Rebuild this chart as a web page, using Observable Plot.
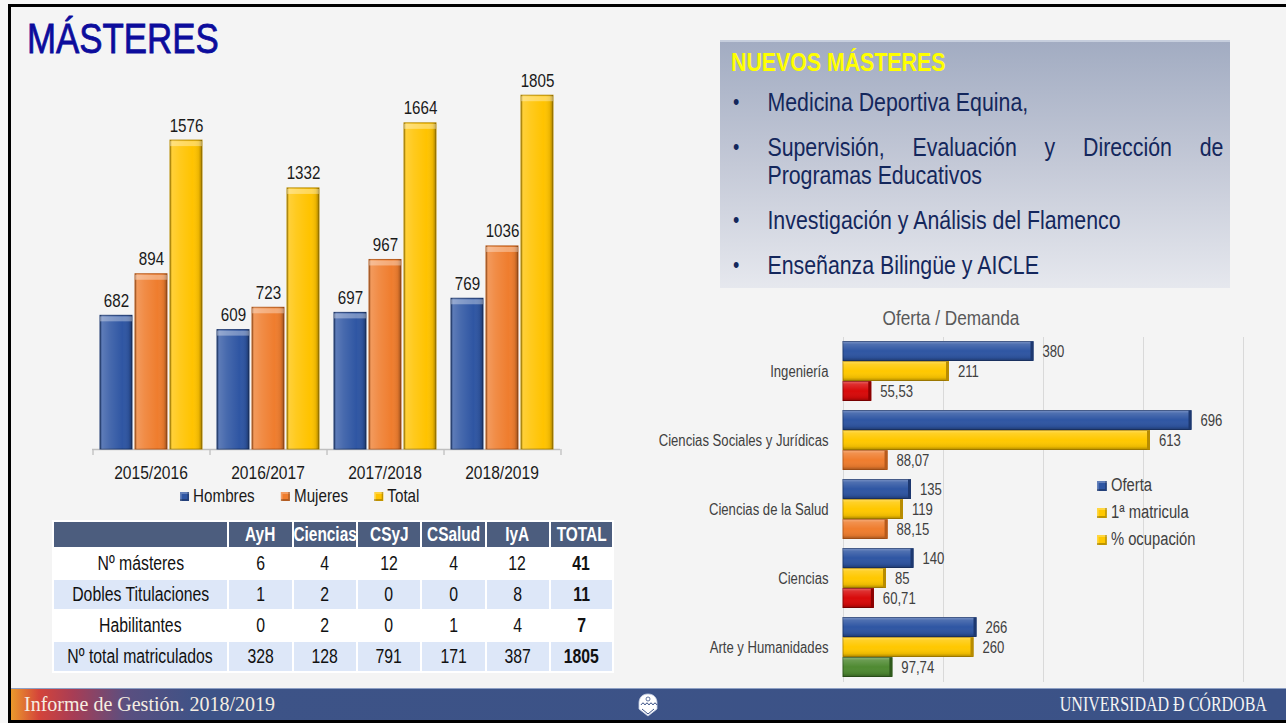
<!DOCTYPE html>
<html lang="es">
<head>
<meta charset="utf-8">
<title>Másteres</title>
<script src="https://cdn.jsdelivr.net/npm/d3@7"></script>
<script src="https://cdn.jsdelivr.net/npm/@observablehq/plot@0.6"></script>
<style>
  html, body { margin:0; padding:0; }
  body { width:1286px; height:723px; position:relative; overflow:hidden; background:#f7f7f7;
         font-family:"Liberation Sans Narrow","Arial Narrow","Liberation Sans",Arial,sans-serif; }
  .a { position:absolute; }
  #slide { left:8px; top:4px; width:1278px; height:719px; background:#f4f4f4; border-left:3px solid #000; border-top:3px solid #000; box-sizing:border-box; }
  #bottomLine { left:8px; top:720px; width:1278px; height:3px; background:#000; }
  #title { left:27px; top:15px; font-size:42px; color:#0c0c9c; -webkit-text-stroke:0.8px #0c0c9c; line-height:48px; white-space:nowrap; transform:scaleX(0.83); transform-origin:left center; }
  #leftLegend { left:180px; top:486px; display:flex; gap:32px; font-size:18.5px; color:#1a1a1a; line-height:20px; transform:scaleX(0.82); transform-origin:left center; }
  .lg { display:flex; align-items:center; white-space:nowrap; }
  .sw { width:11px; height:9px; margin-right:5px; box-shadow: inset -2px -2px 0 rgba(0,0,0,0.25), inset 2px 2px 0 rgba(255,255,255,0.25); }
  #tbl { left:52px; top:520px; border-collapse:collapse; table-layout:fixed; font-size:20px; color:#111; }
  #tbl th, #tbl td { border:2px solid #ffffff; padding:0; text-align:center; white-space:nowrap; overflow:hidden; }
  #tbl th { background:#4c5d7e; color:#fff; font-weight:bold; height:25px; font-size:19.5px; }
  #tbl td { height:29px; }
  #tbl tr.alt td { background:#dde7f8; }
  #tbl tr.plain td { background:#ffffff; }
  #tbl td.tot { font-weight:bold; }
  .nx { display:inline-block; margin:0 -40px; transform:scaleX(0.79); transform-origin:center center; }
  #nuevos { left:720px; top:40px; width:510px; height:248px; background:linear-gradient(180deg,#a2acc2 0%,#c4c9d7 50%,#e6e8ee 100%); border-top:2px solid #c6cedd; box-sizing:border-box; }
  #nuevosTitle { position:absolute; left:11px; top:4px; font-size:26px; font-weight:bold; color:#ffff00; line-height:32px; white-space:nowrap; transform:scaleX(0.82); transform-origin:left center; }
  #nuevosList { position:absolute; left:13px; top:46px; width:598px; margin:0; padding:0; list-style:none; font-size:26px; color:#14275c; line-height:28px; transform:scaleX(0.82); transform-origin:left top; }
  #nuevosList li { position:relative; padding-left:42px; margin-bottom:17px; text-align:justify; }
  #nuevosList li::before { content:"•"; position:absolute; left:0; top:0; font-size:22px; }
  #odTitle { left:851px; top:306px; width:200px; text-align:center; font-size:21px; color:#595959; line-height:24px; transform:scaleX(0.82); transform-origin:center center; white-space:nowrap; }
  #rightLegend { left:1097px; top:472px; font-size:18px; color:#404040; line-height:27px; transform:scaleX(0.82); transform-origin:left top; }
  #rightLegend .lg .sw { width:12px; height:10px; margin-right:5px; }
  #footer { left:11px; top:688px; width:1275px; height:32px;
            background:linear-gradient(90deg,#ea9a2c 0px,#d4443a 28px,#a83d55 62px,#5a4f80 115px,#3d5387 190px,#3b5287 100%);
            border-top:1px solid #8ea0c4; box-sizing:border-box; }
  #footLeft { position:absolute; left:13px; top:4px; font-family:"Liberation Serif","Times New Roman",serif; font-size:20px; color:#f6eee2; white-space:nowrap; line-height:22px; }
  #footRight { position:absolute; right:19px; top:4px; font-family:"Liberation Serif","Times New Roman",serif; font-size:20px; color:#f4f4f4; white-space:nowrap; line-height:22px; transform:scaleX(0.8); transform-origin:right center; }
  #logo { position:absolute; left:626px; top:4px; }
</style>
</head>
<body>
<svg width="0" height="0" style="position:absolute">
  <defs>
    <linearGradient id="shineX" x1="0" y1="0" x2="1" y2="0">
      <stop offset="0" stop-color="#000" stop-opacity="0.30"/>
      <stop offset="0.07" stop-color="#fff" stop-opacity="0.22"/>
      <stop offset="0.3" stop-color="#fff" stop-opacity="0.12"/>
      <stop offset="0.7" stop-color="#fff" stop-opacity="0"/>
      <stop offset="0.9" stop-color="#000" stop-opacity="0.08"/>
      <stop offset="1" stop-color="#000" stop-opacity="0.35"/>
    </linearGradient>
    <linearGradient id="shineY" x1="0" y1="0" x2="0" y2="1">
      <stop offset="0" stop-color="#fff" stop-opacity="0.35"/>
      <stop offset="0.15" stop-color="#fff" stop-opacity="0.15"/>
      <stop offset="0.5" stop-color="#fff" stop-opacity="0"/>
      <stop offset="0.85" stop-color="#000" stop-opacity="0.08"/>
      <stop offset="1" stop-color="#000" stop-opacity="0.3"/>
    </linearGradient>
  </defs>
</svg>
<div id="slide" class="a"></div>
<div id="bottomLine" class="a"></div>
<div id="title" class="a">MÁSTERES</div>
<div id="leftChart" class="a" style="left:0px;top:40px"></div>
<div id="leftLegend" class="a"></div>
<table id="tbl" class="a"></table>
<div id="nuevos" class="a"><div id="nuevosTitle">NUEVOS MÁSTERES</div><ul id="nuevosList"></ul></div>
<div id="odTitle" class="a">Oferta / Demanda</div>
<div id="rightChart" class="a" style="left:640px;top:300px"></div>
<div id="rightLegend" class="a"></div>
<div id="footer" class="a">
  <div id="footLeft">Informe de Gestión. 2018/2019</div>
  <svg id="logo" width="22" height="24" viewBox="0 0 22 24">
    <path d="M11 1 C5 1 2 5 2 10 L2 16 L11 23 L20 16 L20 10 C20 5 17 1 11 1 Z" fill="#ffffff" stroke="#c9d2e6" stroke-width="0.8"/>
    <path d="M4 12 Q6 8 8 12 Q10 8 12 12 Q14 8 16 12 Q18 8 20 12" fill="none" stroke="#3b5287" stroke-width="1"/>
    <path d="M5 16 L11 21 L17 16" fill="none" stroke="#3b5287" stroke-width="1"/>
    <circle cx="11" cy="6" r="2" fill="none" stroke="#3b5287" stroke-width="0.8"/>
  </svg>
  <div id="footRight">UNIVERSIDAD Ð CÓRDOBA</div>
</div>

<script>
// ---------- Left chart data ----------
const years = ["2015/2016", "2016/2017", "2017/2018", "2018/2019"];
const hombres = [682, 609, 697, 769];
const mujeres = [894, 723, 967, 1036];
const total = [1576, 1332, 1664, 1805];
const genderSeries = ["Hombres", "Mujeres", "Total"];

// ---------- Table data ----------
const tableCols = ["AyH", "Ciencias", "CSyJ", "CSalud", "IyA", "TOTAL"];
const tableRowLabels = ["Nº másteres", "Dobles Titulaciones", "Habilitantes", "Nº total matriculados"];
const nMasteres = [6, 4, 12, 4, 12, 41];
const doblesTitulaciones = [1, 2, 0, 0, 8, 11];
const habilitantes = [0, 2, 0, 1, 4, 7];
const totalMatriculados = [328, 128, 791, 171, 387, 1805];

// ---------- New masters ----------
const nuevosMasteres = [
  "Medicina Deportiva Equina,",
  "Supervisión, Evaluación y Dirección de Programas Educativos",
  "Investigación y Análisis del Flamenco",
  "Enseñanza Bilingüe y AICLE"
];

// ---------- Right chart data ----------
const areas = ["Ingeniería", "Ciencias Sociales y Jurídicas", "Ciencias de la Salud", "Ciencias", "Arte y Humanidades"];
const oferta = [380, 696, 135, 140, 266];
const primeraMatricula = [211, 613, 119, 85, 260];
const ocupacion = [55.53, 88.07, 88.15, 60.71, 97.74];
const ofdSeries = ["Oferta", "1ª matricula", "% ocupación"];

// ---------- Styles ----------
const FONT = '"Liberation Sans Narrow","Arial Narrow","Liberation Sans",Arial,sans-serif';
const NARROW = 0.82; // emulate a condensed face with the installed Liberation Sans
const genderFill = {Hombres: "#2f56a3", Mujeres: "#ef7d2e", Total: "#ffc300"};
const genderEdge = {Hombres: "#1d3870", Mujeres: "#b85a1a", Total: "#b88c00"};
const ofdFill = {"Oferta": "#2f56a3", "1ª matricula": "#ffc800"};
const ofdEdge = {"Oferta": "#1d3870", "1ª matricula": "#b88c00"};
function ocupFill(v) { return v < 70 ? "#d80a0a" : v < 95 ? "#ef7d2e" : "#4f8a32"; }
function ocupEdge(v) { return v < 70 ? "#8c0000" : v < 95 ? "#b85a1a" : "#2f5a1c"; }

// Condense every SVG text around its own anchor point
function condense(svg, k) {
  svg.querySelectorAll("text").forEach(t => {
    const b = t.getBBox();
    const anchor = getComputedStyle(t).textAnchor;
    const ax = anchor === "middle" ? b.x + b.width / 2 : anchor === "end" ? b.x + b.width : b.x;
    const tr = t.getAttribute("transform") || "";
    t.setAttribute("transform", `${tr} translate(${ax},0) scale(${k},1) translate(${-ax},0)`);
  });
}

// ---------- Left chart ----------
const gData = years.flatMap((y, i) => [
  {year: y, series: "Hombres", value: hombres[i]},
  {year: y, series: "Mujeres", value: mujeres[i]},
  {year: y, series: "Total", value: total[i]}
]);
const LW = 640, LML = 92, LMR = 80;
const PI = 3 / 35, PO = 0.214;
const facetW = (LW - LML - LMR) / years.length;
const stepW = facetW / (genderSeries.length - PI + 2 * PO);
const bandOff = PO * stepW + stepW * (1 - PI) / 2;

const leftPlot = Plot.plot({
  width: LW, height: 449,
  marginLeft: LML, marginRight: LMR, marginTop: 17, marginBottom: 40,
  style: {background: "transparent", fontFamily: FONT, fontSize: "19px", color: "#1a1a1a", overflow: "visible"},
  fx: {domain: years, padding: 0, label: null, tickSize: 0, tickPadding: 16, axis: "bottom"},
  x: {domain: genderSeries, paddingInner: PI, paddingOuter: PO, axis: null},
  y: {domain: [0, 2000], axis: null},
  color: {type: "identity"},
  marks: [
    Plot.ruleY([0], {stroke: "#bfbfbf", strokeWidth: 1.3}),
    Plot.ruleX(years, {fx: d => d, x: () => genderSeries[0], y1: 0, y2: 0, insetBottom: -6, dx: -bandOff, stroke: "#bfbfbf", strokeWidth: 1.3}),
    Plot.ruleX(years.slice(-1), {fx: d => d, x: () => genderSeries[genderSeries.length - 1], y1: 0, y2: 0, insetBottom: -6, dx: bandOff, stroke: "#bfbfbf", strokeWidth: 1.3}),
    Plot.barY(gData, {fx: "year", x: "series", y: "value", fill: d => genderFill[d.series], stroke: d => genderEdge[d.series], strokeWidth: 1}),
    Plot.barY(gData, {fx: "year", x: "series", y: "value", fill: "url(#shineX)"}),
    Plot.tickY(gData, {fx: "year", x: "series", y: "value", stroke: "#ffffff", strokeOpacity: 0.35, strokeWidth: 5, dy: 3}),
    Plot.text(gData, {fx: "year", x: "series", y: "value", text: d => String(d.value), dy: -15, fontSize: 18.5, fill: "#1a1a1a"})
  ]
});
document.getElementById("leftChart").appendChild(leftPlot);
condense(leftPlot, NARROW);

// Left legend
const ll = d3.select("#leftLegend");
genderSeries.forEach(s => {
  const it = ll.append("div").attr("class", "lg");
  it.append("div").attr("class", "sw").style("background", genderFill[s]);
  it.append("span").text(s);
});

// ---------- Table ----------
const tbl = d3.select("#tbl");
const colW = [175, 64.5, 64.5, 64, 64.5, 64, 63.5];
const cg = tbl.append("colgroup");
colW.forEach(w => cg.append("col").style("width", w + "px"));
const hr = tbl.append("tr");
hr.append("th").text("");
tableCols.forEach(c => hr.append("th").append("span").attr("class", "nx").text(c));
const tableValues = [nMasteres, doblesTitulaciones, habilitantes, totalMatriculados];
tableRowLabels.forEach((lab, r) => {
  const tr = tbl.append("tr").attr("class", r % 2 ? "alt" : "plain");
  tr.append("td").append("span").attr("class", "nx").text(lab);
  tableValues[r].forEach((v, c) => tr.append("td").attr("class", c === tableCols.length - 1 ? "tot" : null)
    .append("span").attr("class", "nx").text(v));
});

// ---------- New masters list ----------
const ul = d3.select("#nuevosList");
nuevosMasteres.forEach(t => ul.append("li").text(t));

// ---------- Right chart ----------
const oData = areas.flatMap((a, i) => [
  {area: a, series: "Oferta", value: oferta[i], label: String(oferta[i]), fill: ofdFill["Oferta"], edge: ofdEdge["Oferta"]},
  {area: a, series: "1ª matricula", value: primeraMatricula[i], label: String(primeraMatricula[i]), fill: ofdFill["1ª matricula"], edge: ofdEdge["1ª matricula"]},
  {area: a, series: "% ocupación", value: ocupacion[i], label: ocupacion[i].toFixed(2).replace(".", ","), fill: ocupFill(ocupacion[i]), edge: ocupEdge(ocupacion[i])}
]);

const rightPlot = Plot.plot({
  width: 646, height: 388,
  marginLeft: 203, marginRight: 43, marginTop: 35.5, marginBottom: 5,
  style: {background: "transparent", fontFamily: FONT, fontSize: "16px", color: "#404040", overflow: "visible"},
  fy: {domain: areas, padding: 0, axis: "left", label: null, tickSize: 0, tickPadding: 15},
  y: {domain: ofdSeries, paddingInner: 0.04, paddingOuter: 0.19, axis: null},
  x: {domain: [0, 800], axis: null},
  color: {type: "identity"},
  marks: [
    Plot.ruleX(d3.ticks(0, 800, 4), {stroke: "#d9d9d9", strokeWidth: 1}),
    Plot.barX(oData, {fy: "area", y: "series", x: "value", fill: "fill", stroke: "edge", strokeWidth: 1}),
    Plot.barX(oData, {fy: "area", y: "series", x: "value", fill: "url(#shineY)"}),
    Plot.tickX(oData, {fy: "area", y: "series", x: "value", stroke: "edge", strokeWidth: 3, dx: -1.5}),
    Plot.text(oData, {fy: "area", y: "series", x: "value", text: "label", dx: 9, textAnchor: "start", fontSize: 16, fill: "#404040"})
  ]
});
document.getElementById("rightChart").appendChild(rightPlot);
condense(rightPlot, NARROW);

// Right legend (Excel-style: last two entries share the yellow marker)
const legendMarker = {"Oferta": ofdFill["Oferta"], "1ª matricula": ofdFill["1ª matricula"], "% ocupación": ofdFill["1ª matricula"]};
const rl = d3.select("#rightLegend");
ofdSeries.forEach(s => {
  const it = rl.append("div").attr("class", "lg");
  it.append("div").attr("class", "sw").style("background", legendMarker[s]);
  it.append("span").text(s);
});
</script>
</body>
</html>
